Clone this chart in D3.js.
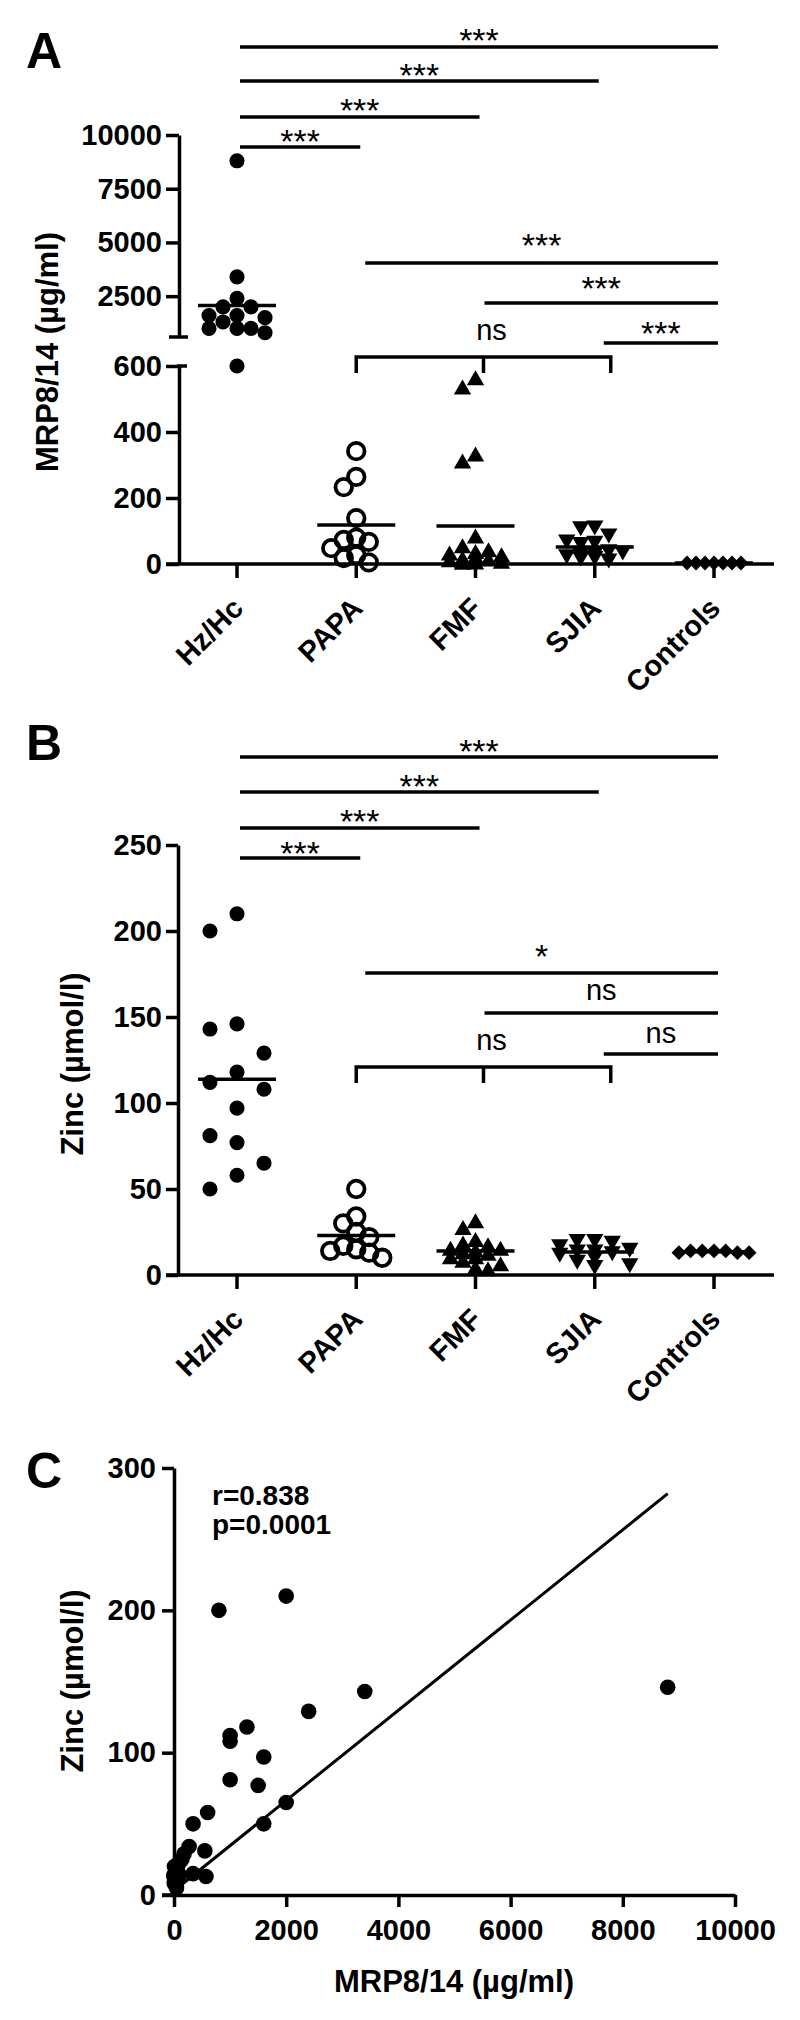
<!DOCTYPE html>
<html>
<head>
<meta charset="utf-8">
<script src="https://cdn.jsdelivr.net/npm/d3@7/dist/d3.min.js"></script>
<style>
body { margin: 0; background: #fff; }
text { font-family: "Liberation Sans", Arial, sans-serif; fill: #000; }
.ax path, .ax line { stroke: #000; stroke-width: 3.5; fill: none; }
.ax text { font-size: 29px; font-weight: bold; }
</style>
</head>
<body>
<script>
// groups on the x axis of panels A and B
var groups = ["Hz/Hc", "PAPA", "FMF", "SJIA", "Controls"];

// Hz/Hc patients, paired values (used in A, B and C)
var hzMrp  = [8800, 3400, 2400, 2000, 2000, 1600, 1600, 1500, 1300, 1000, 1000, 1000, 800, 600];
var hzZinc = [146, 143, 129, 210, 65, 97, 50, 77, 118, 112, 108, 81, 200, 58];

// MRP8/14 (ug/ml), other groups
var papaMrp = [342, 264, 233, 139, 80, 73, 67, 48, 27, 18, 5];
var fmfMrp  = [561, 533, 330, 309, 82, 52, 40, 35, 30, 25, 20, 15, 12, 10, 8, 5, 3, 2];
var sjiaMrp = [112, 110, 88, 70, 66, 62, 40, 36, 32, 30, 25, 20, 18, 12];
var ctrlMrp = [3, 3, 3, 3, 3, 3, 3];

// Zinc (umol/l), other groups
var papaZinc = [50, 34, 30, 25, 22, 17, 15, 14, 13, 10];
var fmfZinc  = [31, 27, 20, 18, 17, 15, 15, 14, 13, 12, 10, 10, 8, 6, 4, 3];
var sjiaZinc = [20, 20, 19, 17, 15, 14, 14, 13, 12, 10, 8, 6, 5];
var ctrlZinc = [13, 13, 14, 14, 14, 13, 14];

// correlation panel, non Hz/Hc pairs
var otherMrp  = [340, 270, 180, 550, 570, 340, 40, 140, 80, 70, 20, 10, 30, 5, 100, 60, 45, 15, 25, 8, 3, 2, 2, 2];
var otherZinc = [50, 34, 29, 31, 13, 15, 18, 25, 22, 12, 20, 10, 15, 8, 14, 17, 5, 12, 9, 20, 13, 14, 13, 14];
var fitSlope = 0.0317, fitIntercept = 3, fitMaxX = 8800;

// tick values
var upTicks = [2500, 5000, 7500, 10000];
var lowTicks = [0, 200, 400, 600];
var zincTicks = [0, 50, 100, 150, 200, 250];
var cYTicks = [0, 100, 200, 300];
var cXTicks = [0, 2000, 4000, 6000, 8000, 10000];

// significance annotations
var sigA = [
	{from: 0, to: 4, label: "***"}, {from: 0, to: 3, label: "***"},
	{from: 0, to: 2, label: "***"}, {from: 0, to: 1, label: "***"},
	{from: 1, to: 4, label: "***"}, {from: 2, to: 4, label: "***"},
	{from: 3, to: 4, label: "***"}
];
var sigB = [
	{from: 0, to: 4, label: "***"}, {from: 0, to: 3, label: "***"},
	{from: 0, to: 2, label: "***"}, {from: 0, to: 1, label: "***"},
	{from: 1, to: 4, label: "*"}, {from: 2, to: 4, label: "ns"},
	{from: 3, to: 4, label: "ns"}
];
var bracketLabel = "ns";

var svg = d3.select("body").append("svg")
	.attr("width", 800)
	.attr("height", 2020);

var x = d3.scalePoint().domain(groups).range([237, 714]);
var fmt = d3.format("d");

var symCircle = d3.symbol().type(d3.symbolCircle).size(180);
var symTri = d3.symbol().type(d3.symbolTriangle).size(130);
var symDiamond = d3.symbol().type(d3.symbolSquare).size(110);

// column swarm: points close in y are pushed to side columns, limited width
function swarm(vals, yf, cx, step, minDy, maxOff) {
	var slots = [0];
	for (var k = 1; k * step <= maxOff + 0.1; k++) slots.push(-k * step, k * step);
	var pts = vals.map(function(v) { return {v: v, y: yf(v)}; })
		.sort(function(a, b) { return a.y - b.y; });
	var placed = [];
	pts.forEach(function(p) {
		var best = 0, bestN = 1e9;
		slots.forEach(function(off) {
			var n = placed.filter(function(q) {
				return Math.abs(q.y - p.y) < minDy && Math.abs(q.x - (cx + off)) < step * 0.5;
			}).length;
			if (n < bestN) { bestN = n; best = off; }
		});
		p.x = cx + best;
		placed.push(p);
	});
	return placed;
}

function drawGroup(g, vals, yf, cat, kind, step, minDy, maxOff) {
	var pts = swarm(vals, yf, x(cat), step, minDy, maxOff);
	var sel = g.append("g");
	if (kind == "open") {
		sel.selectAll("circle").data(pts).enter().append("circle")
			.attr("cx", function(d) { return d.x; })
			.attr("cy", function(d) { return d.y; })
			.attr("r", 8.3)
			.attr("fill", "none")
			.attr("stroke", "#000")
			.attr("stroke-width", 3.8);
	} else {
		sel.selectAll("path").data(pts).enter().append("path")
			.attr("d", kind == "dot" ? symCircle : kind == "diamond" ? symDiamond : symTri)
			.attr("transform", function(d) {
				var r = kind == "down" ? 180 : kind == "diamond" ? 45 : 0;
				var dy = kind == "up" ? 1.5 : kind == "down" ? -1.5 : 0;
				return "translate(" + d.x + "," + (d.y + dy) + ") rotate(" + r + ")";
			})
			.attr("fill", "#000");
	}
	// mean line
	var m = d3.mean(vals);
	g.append("line")
		.attr("x1", x(cat) - 39).attr("x2", x(cat) + 39)
		.attr("y1", yf(m)).attr("y2", yf(m))
		.attr("stroke", "#000").attr("stroke-width", 3.5);
}

function catAxis(g, y0) {
	g.append("line").attr("x1", 166).attr("x2", 774).attr("y1", y0).attr("y2", y0)
		.attr("stroke", "#000").attr("stroke-width", 3.5);
	g.selectAll(".ctick").data(groups).enter().append("line")
		.attr("x1", function(d) { return x(d); }).attr("x2", function(d) { return x(d); })
		.attr("y1", y0).attr("y2", y0 + 14)
		.attr("stroke", "#000").attr("stroke-width", 3.5);
	g.selectAll(".clab").data(groups).enter().append("text")
		.attr("text-anchor", "end")
		.attr("transform", function(d) { return "translate(" + (x(d) + 8) + "," + (y0 + 46) + ") rotate(-45)"; })
		.style("font-size", "29px").style("font-weight", "bold")
		.text(function(d) { return d; });
}

function drawSig(g, list, rows, gaps) {
	list.forEach(function(s, i) {
		var x1 = x(groups[s.from]) + (s.from === 0 ? 3 : 9);
		var x2 = x(groups[s.to]) + 4;
		g.append("line").attr("x1", x1).attr("x2", x2).attr("y1", rows[i]).attr("y2", rows[i])
			.attr("stroke", "#000").attr("stroke-width", 3.5);
		var star = s.label.indexOf("*") >= 0;
		g.append("text")
			.attr("x", (x1 + x2) / 2)
			.attr("y", star ? rows[i] - gaps[i] + 14.5 : rows[i] - gaps[i])
			.attr("text-anchor", "middle")
			.style("font-size", star ? "34px" : "29px")
			.text(s.label);
	});
}

function drawBracket(g, y0) {
	var x1 = x("PAPA"), x2 = x("SJIA") + 16, xm = (x1 + x2) / 2;
	g.append("path")
		.attr("d", "M" + x1 + "," + (y0 + 16) + "V" + y0 + "H" + x2 + "V" + (y0 + 16) + "M" + xm + "," + y0 + "V" + (y0 + 16))
		.attr("fill", "none").attr("stroke", "#000").attr("stroke-width", 3.5);
	g.append("text").attr("x", xm + 8).attr("y", y0 - 17)
		.attr("text-anchor", "middle").style("font-size", "29px")
		.text(bracketLabel);
}

function panelLetter(t, y) {
	svg.append("text").attr("x", 26).attr("y", y)
		.style("font-size", "50px").style("font-weight", "bold").text(t);
}

function yTitle(t, cx, cy) {
	svg.append("text")
		.attr("transform", "translate(" + cx + "," + cy + ") rotate(-90)")
		.attr("text-anchor", "middle")
		.attr("dy", "0.35em")
		.style("font-size", "31px").style("font-weight", "bold")
		.text(t);
}

// ---------- PANEL A ----------
var yLow = d3.scaleLinear().domain([0, 600]).range([564, 366]);
var yUp = d3.scaleLinear().domain([600, 10000]).range([337, 135]);
function yA(v) { return v <= 600 ? yLow(v) : yUp(v); }

var gA = svg.append("g");
panelLetter("A", 68);
yTitle("MRP8/14 (\u00b5g/ml)", 47, 352);

gA.append("g").attr("class", "ax").attr("transform", "translate(179,0)")
	.call(d3.axisLeft(yUp).tickValues(upTicks).tickFormat(fmt).tickSize(13).tickSizeOuter(0).tickPadding(4));
gA.append("g").attr("class", "ax").attr("transform", "translate(179,0)")
	.call(d3.axisLeft(yLow).tickValues(lowTicks).tickFormat(fmt).tickSize(13).tickSizeOuter(0).tickPadding(4));
// break caps
gA.append("line").attr("x1", 169).attr("x2", 188).attr("y1", yUp(600)).attr("y2", yUp(600))
	.attr("stroke", "#000").attr("stroke-width", 3.5);
gA.append("line").attr("x1", 177).attr("x2", 187).attr("y1", yLow(600)).attr("y2", yLow(600))
	.attr("stroke", "#000").attr("stroke-width", 3.5);

catAxis(gA, 564);

drawGroup(gA, hzMrp, yA, "Hz/Hc", "dot", 14, 12, 28);
drawGroup(gA, papaMrp, yA, "PAPA", "open", 12.5, 16, 25);
drawGroup(gA, fmfMrp, yA, "FMF", "up", 13, 14, 26);
drawGroup(gA, sjiaMrp, yA, "SJIA", "down", 14, 14, 28);
drawGroup(gA, ctrlMrp, yA, "Controls", "diamond", 9, 12, 27);

drawSig(gA, sigA, [47, 81, 117, 147, 263, 303, 343], [10, 9, 10, 9, 21, 18, 13]);
drawBracket(gA, 357);

// ---------- PANEL B ----------
var yB = d3.scaleLinear().domain([0, 250]).range([1275, 845]);
var gB = svg.append("g");
panelLetter("B", 760);
yTitle("Zinc (\u00b5mol/l)", 72, 1064);

gB.append("g").attr("class", "ax").attr("transform", "translate(178,0)")
	.call(d3.axisLeft(yB).tickValues(zincTicks).tickFormat(fmt).tickSize(12).tickSizeOuter(0).tickPadding(4));
catAxis(gB, 1275);

drawGroup(gB, hzZinc, yB, "Hz/Hc", "dot", 27, 30, 27);
drawGroup(gB, papaZinc, yB, "PAPA", "open", 13, 14, 26);
drawGroup(gB, fmfZinc, yB, "FMF", "up", 12.5, 14, 25);
drawGroup(gB, sjiaZinc, yB, "SJIA", "down", 17.5, 14, 35);
drawGroup(gB, ctrlZinc, yB, "Controls", "diamond", 11.7, 12, 35);

drawSig(gB, sigB, [757, 792, 828, 858, 973, 1013, 1054], [9, 9, 10, 8, 20, 13, 11]);
drawBracket(gB, 1067);

// ---------- PANEL C ----------
var xC = d3.scaleLinear().domain([0, 10000]).range([174, 735]);
var yC = d3.scaleLinear().domain([0, 300]).range([1895, 1468]);
var gC = svg.append("g");
panelLetter("C", 1488);
yTitle("Zinc (\u00b5mol/l)", 72, 1681);

gC.append("g").attr("class", "ax").attr("transform", "translate(174,0)")
	.call(d3.axisLeft(yC).tickValues(cYTicks).tickFormat(fmt).tickSize(12).tickSizeOuter(0).tickPadding(6));
gC.append("g").attr("class", "ax").attr("transform", "translate(0,1895)")
	.call(d3.axisBottom(xC).tickValues(cXTicks).tickFormat(fmt).tickSize(12).tickSizeOuter(0).tickPadding(12));
gC.append("line").attr("x1", 162).attr("x2", 174).attr("y1", 1895).attr("y2", 1895)
	.attr("stroke", "#000").attr("stroke-width", 3.5);

// x axis title
gC.append("text").attr("x", 454).attr("y", 1992).attr("text-anchor", "middle")
	.style("font-size", "31px").style("font-weight", "bold")
	.text("MRP8/14 (\u00b5g/ml)");

// regression line
gC.append("line")
	.attr("x1", xC(0)).attr("y1", yC(fitIntercept))
	.attr("x2", xC(fitMaxX)).attr("y2", yC(fitIntercept + fitSlope * fitMaxX))
	.attr("stroke", "#000").attr("stroke-width", 3);

var pairs = hzMrp.map(function(v, i) { return [v, hzZinc[i]]; })
	.concat(otherMrp.map(function(v, i) { return [v, otherZinc[i]]; }));

gC.selectAll(".pt").data(pairs).enter().append("circle")
	.attr("cx", function(d) { return xC(d[0]); })
	.attr("cy", function(d) { return yC(d[1]); })
	.attr("r", 7.8)
	.attr("fill", "#000");

gC.append("text").attr("x", 212).attr("y", 1505)
	.style("font-size", "28px").style("font-weight", "bold").text("r=0.838");
gC.append("text").attr("x", 212).attr("y", 1534)
	.style("font-size", "28px").style("font-weight", "bold").text("p=0.0001");
</script>
</body>
</html>
